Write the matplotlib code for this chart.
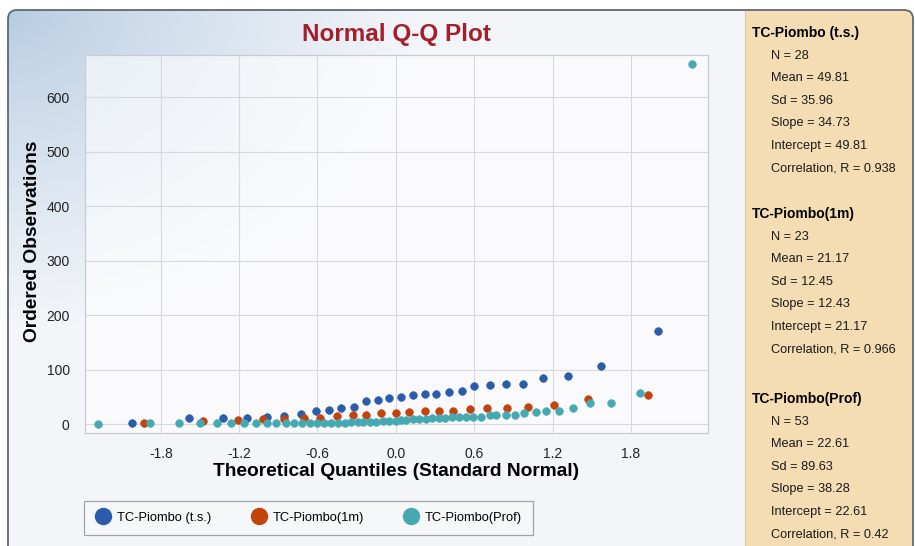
import numpy as np
import matplotlib
matplotlib.use('Agg')
import matplotlib.pyplot as plt
from matplotlib.patches import FancyBboxPatch, Rectangle
from matplotlib.lines import Line2D

# ---- data ----
series_names = ['TC-Piombo (t.s.)', 'TC-Piombo(1m)', 'TC-Piombo(Prof)']

ts_q = [-2.02, -1.58, -1.32, -1.14, -0.99, -0.86, -0.73, -0.61, -0.51, -0.42,
        -0.32, -0.23, -0.14, -0.05, 0.04, 0.13, 0.22, 0.31, 0.41, 0.51,
        0.60, 0.72, 0.84, 0.97, 1.13, 1.32, 1.57, 2.01]
ts_obs = [2.4, 11, 11.5, 12, 12.5, 15.8, 18.4, 24.2, 25.7, 29.9,
          31.8, 43.3, 45.2, 47.7, 49.6, 54.4, 56.2, 56.5, 58.8, 60.6,
          69.8, 72.2, 74, 74.2, 85, 89.3, 106.5, 170.8]

m1_q = [-1.93, -1.48, -1.21, -1.02, -0.86, -0.70, -0.58, -0.45, -0.33, -0.23,
        -0.11, 0.00, 0.10, 0.22, 0.33, 0.44, 0.57, 0.70, 0.85, 1.01,
        1.21, 1.47, 1.93]
m1_obs = [1.8, 5.5, 8, 9, 9.5, 11.5, 11.6, 14.7, 17, 17.1,
          20.8, 21, 23.1, 25, 25, 25.1, 27.5, 29.9, 30, 32.3,
          34.5, 47, 53.3]

prof_q = [-2.28, -1.88, -1.66, -1.50, -1.37, -1.26, -1.16, -1.07, -0.99, -0.92,
          -0.84, -0.78, -0.72, -0.66, -0.60, -0.55, -0.50, -0.44, -0.39, -0.34,
          -0.29, -0.25, -0.20, -0.15, -0.10, -0.05, 0.00, 0.04, 0.08, 0.13,
          0.18, 0.23, 0.28, 0.33, 0.38, 0.43, 0.48, 0.54, 0.59, 0.65,
          0.72, 0.77, 0.84, 0.91, 0.98, 1.07, 1.15, 1.25, 1.36, 1.49,
          1.65, 1.87, 2.27]
prof_obs = [0, 1.5, 1.5, 2, 2.5, 2.5, 2.8, 2.8, 2.9, 2.9,
            2.9, 3, 3, 3, 3, 3, 3, 3.2, 3.2, 3.3,
            3.5, 4, 4.2, 4.3, 5.5, 5.5, 6.5, 7.5, 8.5, 9.5,
            9.7, 10.3, 11, 11.6, 12.1, 12.9, 13.4, 13.4, 13.5, 14,
            17.6, 17.6, 17.7, 17.8, 20.2, 23.1, 25, 25.2, 29.4, 38.2,
            38.6, 56.6, 661]

stat_n = ['28', '23', '53']
stat_mean = ['49.81', '21.17', '22.61']
stat_sd = ['35.96', '12.45', '89.63']
stat_slope = ['34.73', '12.43', '38.28']
stat_icpt = ['49.81', '21.17', '22.61']
stat_r = ['0.938', '0.966', '0.42']

xticks = [-1.8, -1.2, -0.6, 0.0, 0.6, 1.2, 1.8]
yticks = [0, 100, 200, 300, 400, 500, 600]

# ---- style ----
BLU = "#2b5cab"; RED = "#c4420c"; TEA = "#46a9b1"
TAN = "#f4ddb2"; TITLE = "#a3202a"
SANS = ['Liberation Sans', 'DejaVu Sans']
W, H = 915, 546

fig = plt.figure(figsize=(W / 100, H / 100), dpi=100, facecolor='white')

# background: gradient panel with rounded top-left corner, tan stats panel on the right
bg = fig.add_axes([0, 0, 1, 1], zorder=0)
bg.set_xlim(0, W); bg.set_ylim(H, 0); bg.axis('off')
yy, xx = np.mgrid[0:H, 0:W]
t = np.clip(np.sqrt((xx / 420.0) ** 2 + (yy / 330.0) ** 2), 0, 1) ** 0.8
c0 = np.array([0.70, 0.79, 0.88]); c1 = np.array([0.955, 0.962, 0.978])
img = c0 * (1 - t[..., None]) + c1 * t[..., None]
frame = FancyBboxPatch((8, 10), 905, 560, boxstyle='round,pad=0,rounding_size=9',
                       fc='none', ec='#5f6872', lw=1.3, zorder=3)
bg.add_patch(frame)
im = bg.imshow(img, extent=(0, W, H, 0), zorder=1)
im.set_clip_path(frame)
bg.add_patch(Rectangle((745, 11), 167, 540, fc=TAN, ec='none', zorder=2))
bg.plot([745, 745], [11, H], color='#d9c9a6', lw=0.8, zorder=2)

# stats panel
heads_y = [33, 214, 399]
for i, name in enumerate(series_names):
    y0 = heads_y[i]
    bg.text(752, y0, name, fontsize=10, fontweight='bold', family=SANS,
            va='center', ha='left', color='black', zorder=4)
    lines = ['N = ' + stat_n[i], 'Mean = ' + stat_mean[i], 'Sd = ' + stat_sd[i],
             'Slope = ' + stat_slope[i], 'Intercept = ' + stat_icpt[i],
             'Correlation, R = ' + stat_r[i]]
    for k, s in enumerate(lines):
        bg.text(771, y0 + 22.6 * (k + 1), s, fontsize=9.2, family=SANS,
                va='center', ha='left', color='#1a1a1a', zorder=4)

# main plot
L, R, T, B = 85, 708, 55, 433
ax = fig.add_axes([L / W, 1 - B / H, (R - L) / W, (B - T) / H], zorder=2)
ax.set_facecolor((1, 1, 1, 0.6))
for q, o, c in [(ts_q, ts_obs, BLU), (m1_q, m1_obs, RED), (prof_q, prof_obs, TEA)]:
    ax.scatter(q, o, s=30, color=c, edgecolors=c, linewidths=0.5, zorder=3)
ax.set_xlim(-2.38, 2.39)
ax.set_ylim(-16, 678)
ax.set_xticks(xticks)
ax.set_xticklabels([f"{v:.1f}" for v in xticks])
ax.set_yticks(yticks)
ax.grid(True, color='#d6d8de', lw=0.8)
ax.set_axisbelow(True)
ax.tick_params(length=0, labelsize=10, labelcolor='#222222')
ax.tick_params(axis='x', pad=10)
ax.tick_params(axis='y', pad=11)
for lab in ax.get_xticklabels() + ax.get_yticklabels():
    lab.set_family(SANS)
for sp in ax.spines.values():
    sp.set_color('#c9cbd2'); sp.set_linewidth(0.9)

fig.text(396 / W, 1 - 35 / H, 'Normal Q-Q Plot', fontsize=17.5, fontweight='bold',
         family=SANS, color=TITLE, ha='center', va='center')
fig.text(396 / W, 1 - 472 / H, 'Theoretical Quantiles (Standard Normal)', fontsize=13.8,
         fontweight='bold', family=SANS, ha='center', va='center')
fig.text(33 / W, 1 - 241 / H, 'Ordered Observations', fontsize=13.8, rotation=90,
         fontweight='bold', family=SANS, ha='center', va='center')

handles = [Line2D([], [], ls='none', marker='o', ms=11.5, color=c, mec=c)
           for c in (BLU, RED, TEA)]
leg = fig.legend(handles, series_names, loc='center left', ncol=3, mode='expand',
                 bbox_to_anchor=(84 / W, 1 - 535 / H, (533 - 84) / W, 35 / H),
                 frameon=True, fancybox=False, borderaxespad=0, handletextpad=0.4,
                 handlelength=1.3, borderpad=0.85, prop={'family': SANS, 'size': 9.3})
leg.get_frame().set_edgecolor('#8a8f96')
leg.get_frame().set_facecolor('#f7f8fa')
leg.get_frame().set_linewidth(0.9)

fig.savefig('out.png', dpi=100, facecolor='white')
